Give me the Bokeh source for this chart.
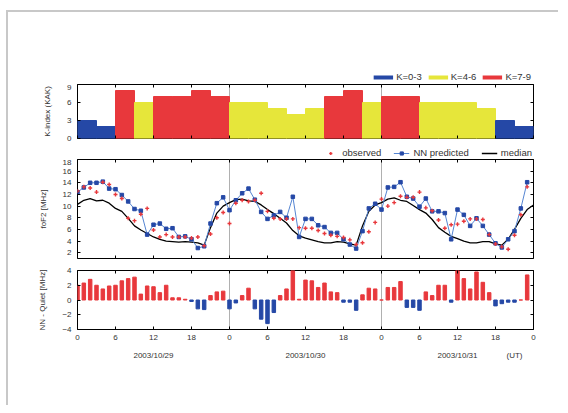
from bokeh.plotting import figure
from bokeh.layouts import column
from bokeh.models import (ColumnDataSource, Range1d, LinearAxis, FixedTicker,
                          Span, Legend, LegendItem)
from bokeh.embed import file_html
from bokeh.resources import INLINE

# ---------------- data ----------------
# Kp index, 3-hour bins starting at 0 UT 2003/10/29
kp_start = list(range(0, 72, 3))
kp_values = [3, 2, 8, 6, 7, 7, 8, 7,
             6, 6, 5, 4, 5, 7, 8, 6,
             7, 7, 6, 6, 6, 5, 3, 2]

hours = list(range(0, 72))
hours_med = list(range(0, 73))

observed = [12.6, 13.3, 13.1, 12.4, 14.1, 13.7, 12.0, 11.3, 7.9, 7.5, 8.6, 9.6,
            5.9, 4.7, 5.1, 4.7, 4.7, 4.7, 4.5, 4.7, 3.2, 5.2, 8.0, 8.9,
            7.0, 10.5, 11.0, 10.8, 11.0, 12.2, 9.1, 7.9, 7.8, 7.8, 7.8, 6.3,
            6.2, 6.2, 5.8, 5.3, 5.0, 4.8, 4.6, 4.2, 3.4, 3.7, 5.6, 7.2,
            11.2, 10.0, 10.6, 11.7, 11.5, 11.5, 12.4, 9.7, 9.2, 7.6, 6.2, 6.8,
            6.9, 7.4, 7.8, 7.8, 7.7, 5.1, 3.5, 3.0, 2.6, 5.0, 8.5, 13.3]

nn_pred = [12.4, 13.2, 14.0, 14.0, 14.2, 13.0, 12.9, 11.9, 10.8, 9.5, 9.2, 5.1,
           6.8, 7.0, 6.1, 6.2, 4.7, 4.8, 4.3, 2.8, 3.1, 7.0, 10.5, 11.5,
           9.3, 11.0, 12.2, 13.0, 11.1, 9.0, 7.8, 8.4, 9.0, 8.0, 11.6, 4.7,
           7.8, 7.8, 6.7, 6.4, 5.4, 5.4, 4.3, 3.4, 2.7, 5.7, 9.6, 10.4,
           9.4, 13.2, 13.3, 14.1, 11.6, 11.3, 9.9, 11.3, 9.1, 9.1, 8.8, 4.3,
           9.4, 8.5, 6.6, 7.9, 6.6, 5.1, 3.6, 2.9, 4.3, 5.7, 9.6, 14.1]

median = [10.3, 11.0, 11.3, 10.9, 11.0, 10.5, 9.6, 9.1, 7.9, 6.6, 5.9, 5.3,
          4.7, 4.3, 4.0, 3.9, 3.8, 3.9, 3.8, 3.7, 3.3, 6.3, 8.8, 10.0,
          10.6, 11.1, 11.2, 10.9, 10.8, 10.2, 9.4, 8.7, 7.9, 7.1, 5.8, 4.9,
          4.5, 4.2, 3.9, 3.7, 3.7, 3.9, 3.8, 3.5, 3.3, 6.6, 9.1, 10.2,
          10.6, 11.2, 11.4, 11.0, 10.8, 10.1, 9.4, 8.8, 7.7, 6.3, 5.5, 4.8,
          4.4, 4.0, 3.7, 3.7, 3.9, 3.9, 3.5, 3.3, 4.3, 6.0, 7.9, 9.4, 10.2]

nn_minus_quiet = [2.0, 2.3, 2.8, 2.0, 1.5, 1.9, 2.0, 2.6, 2.9, 3.1, 0.8, 1.9,
                  1.8, 1.0, 2.0, 0.3, 0.3, 0.1, -0.2, -1.2, -1.3, 0.6, 1.1, 1.2,
                  -1.2, -0.4, 0.6, 1.6, -1.2, -2.6, -3.2, -1.7, 0.6, 1.5, 4.0, 0.1,
                  2.7, 2.6, 1.7, 2.3, 1.1, 1.0, -0.3, -0.3, -1.4, 0.7, 1.6, 1.5,
                  0.0, 1.7, 1.7, 2.5, -1.0, -1.0, -1.4, 1.1, 0.6, 2.0, 2.0, -0.3,
                  4.0, 2.9, 1.5, 3.8, 2.4, 1.0, -0.8, -0.5, -0.3, -0.3, 0.0, 3.4]

x_ticks = list(range(0, 73, 6))
day_bounds = [24, 48]
date_pos = [12, 36, 60, 69]
date_labels = ["2003/10/29", "2003/10/30", "2003/10/31", "(UT)"]

# ---------------- style ----------------
FONT = "Liberation Sans"
TXT = "#333333"
BLUE = "#2548a6"
YELLOW = "#e6e63a"
RED = "#e8383c"
LBLUE = "#5585d2"

W = 550
BL, BR = 69, 25


def kcolor(k):
    if k <= 3:
        return BLUE
    if k <= 6:
        return YELLOW
    return RED


def style_axis(ax, labels=True, ticks=None):
    ax.major_tick_in = 3
    ax.major_tick_out = 0
    ax.minor_tick_line_color = None
    ax.axis_line_color = None
    ax.major_tick_line_color = "black"
    ax.major_label_text_font = FONT
    ax.major_label_text_color = TXT
    ax.major_label_text_font_size = "8px"
    ax.axis_label_text_font = FONT
    ax.axis_label_text_font_style = "normal"
    ax.axis_label_text_color = TXT
    ax.axis_label_text_font_size = "8px"
    if not labels:
        ax.major_label_overrides = {t: "" for t in ticks}
        ax.major_label_standoff = 0


def base_fig(h, xr, yr, top, bottom):
    p = figure(width=W, height=h, x_range=xr, y_range=yr,
               output_backend="svg", toolbar_location=None)
    p.min_border_left = BL
    p.min_border_right = BR
    p.min_border_top = top
    p.min_border_bottom = bottom
    p.grid.visible = False
    p.background_fill_color = "white"
    p.border_fill_color = "white"
    return p


def make_fig(h, yr, top, bottom, yticks, ylabel, xlabels):
    p = base_fig(h, Range1d(0, 72), Range1d(*yr), top, bottom)
    p.outline_line_color = "black"
    p.outline_line_width = 1
    xt = FixedTicker(ticks=x_ticks)
    yt = FixedTicker(ticks=yticks)
    p.xaxis[0].ticker = xt
    p.yaxis[0].ticker = yt
    p.yaxis[0].axis_label = ylabel
    style_axis(p.yaxis[0])
    p.yaxis[0].axis_label_standoff = 12
    p.yaxis[0].major_label_standoff = 6
    if xlabels:
        style_axis(p.xaxis[0])
        p.xaxis[0].major_label_overrides = {t: str(t % 24) for t in x_ticks}
    else:
        style_axis(p.xaxis[0], labels=False, ticks=x_ticks)
    ra = LinearAxis(ticker=yt)
    style_axis(ra, labels=False, ticks=yticks)
    p.add_layout(ra, "right")
    ta = LinearAxis(ticker=xt)
    style_axis(ta, labels=False, ticks=x_ticks)
    p.add_layout(ta, "above")
    for d in day_bounds:
        p.add_layout(Span(location=d, dimension="height", line_color="#b0b0b0",
                          line_width=1, level="underlay"))
    return p


def legend_strip(h):
    s = base_fig(h, Range1d(0, 1), Range1d(0, 1), 0, 0)
    s.axis.visible = False
    s.outline_line_color = None
    return s


def style_legend(lg, margin, gw, spacing, standoff):
    lg.orientation = "horizontal"
    lg.location = "bottom_right"
    lg.border_line_color = None
    lg.background_fill_alpha = 0
    lg.label_text_font = FONT
    lg.label_text_font_size = "9.5px"
    lg.label_text_color = TXT
    lg.label_height = 8
    lg.glyph_height = 8
    lg.glyph_width = gw
    lg.padding = 0
    lg.margin = margin
    lg.spacing = spacing
    lg.label_standoff = standoff


# legend proxies sit outside the strip's visible range
px, py = [-5], [-5]

# ---------------- legend strip for K-index ----------------
L1 = legend_strip(72)
dummy = {}
for name, col in [("K=0-3", BLUE), ("K=4-6", YELLOW), ("K=7-9", RED)]:
    dummy[name] = L1.line(x=px, y=py, line_color=col, line_width=4)
lg1 = Legend(items=[LegendItem(label=n, renderers=[r]) for n, r in dummy.items()])
style_legend(lg1, 2, 20, 6, 3)
L1.add_layout(lg1)

# ---------------- top panel: K-index ----------------
p1 = make_fig(60, (0, 9), 0, 6, [0, 3, 6, 9], "K-index (KAK)", False)
ksrc = ColumnDataSource(dict(x=[s + 1.5 for s in kp_start], top=kp_values,
                             color=[kcolor(k) for k in kp_values]))
p1.vbar(x="x", top="top", width=3, bottom=0, color="color", source=ksrc)

# ---------------- legend strip for foF2 ----------------
L2 = legend_strip(15)
d_obs = L2.scatter(x=px, y=py, marker="cross", size=4, line_color=RED, line_width=1.4)
d_nnl = L2.line(x=px, y=py, line_color=LBLUE, line_width=1)
d_nns = L2.scatter(x=px, y=py, marker="square", size=3.5, fill_color=BLUE, line_color=BLUE)
d_med = L2.line(x=px, y=py, line_color="black", line_width=1.3)
lg2 = Legend(items=[LegendItem(label="observed", renderers=[d_obs]),
                    LegendItem(label="NN predicted", renderers=[d_nnl, d_nns]),
                    LegendItem(label="median", renderers=[d_med])])
style_legend(lg2, 1, 16, 12, 4)
L2.add_layout(lg2)

# ---------------- middle panel: foF2 ----------------
p2 = make_fig(105, (1, 18), 0, 6, list(range(2, 19, 2)), "foF2 [MHz]", False)
p2.line(hours_med, median, line_color="black", line_width=1.3)
p2.line(hours, nn_pred, line_color=LBLUE, line_width=1)
p2.scatter(hours, nn_pred, marker="square", size=3.5, fill_color=BLUE, line_color=BLUE)
p2.scatter(hours, observed, marker="cross", size=4, line_color=RED, line_width=1.4)

# ---------------- bottom panel: NN - Quiet ----------------
p3 = make_fig(141, (-4, 4), 6, 76, [-4, -2, 0, 2, 4], "NN - Quiet [MHz]", True)
p3.xaxis[0].major_label_standoff = 8
dsrc = ColumnDataSource(dict(x=hours, top=nn_minus_quiet,
                             color=[RED if v >= 0 else BLUE for v in nn_minus_quiet]))
p3.vbar(x="x", top="top", bottom=0, width=0.55, color="color", source=dsrc)
da = LinearAxis(ticker=FixedTicker(ticks=date_pos),
                major_label_overrides=dict(zip(date_pos, date_labels)))
style_axis(da)
da.major_tick_line_color = None
da.major_label_standoff = 8
p3.add_layout(da, "below")

layout = column(L1, p1, L2, p2, p3, spacing=0,
                styles={"border-top": "2px solid #c8c8c8",
                        "border-left": "2px solid #c8c8c8",
                        "margin-left": "6px", "margin-top": "10px"})

with open("out.html", "w") as f:
    f.write(file_html(layout, INLINE))
